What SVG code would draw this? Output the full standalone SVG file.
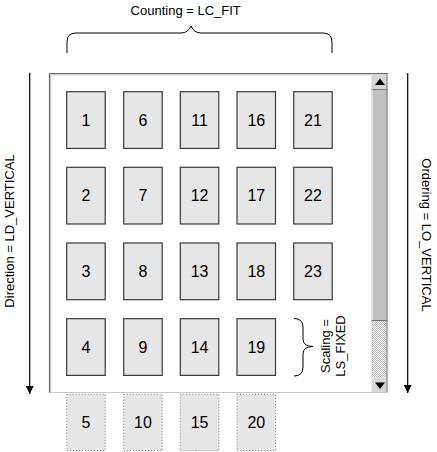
<svg xmlns="http://www.w3.org/2000/svg" width="437" height="452" viewBox="0 0 437 452">
<style>
  text { font-family: "Liberation Sans", Arial, sans-serif; fill: #000; }
  .lbl { font-size: 13px; }
  .num { font-size: 16px; text-anchor: middle; }
  .box { fill: #e6e6e6; stroke: #3a3a3a; stroke-width: 1.2; }
  .dot { fill: #e6e6e6; stroke: #777; stroke-width: 1; stroke-dasharray: 1 2; }
  .brace { fill: none; stroke: #000; stroke-width: 1; }
  .conn { fill: none; stroke: #000; stroke-width: 1.2; }
</style>
<defs>
  <marker id="arr" viewBox="0 0 10 10" refX="10" refY="5" markerWidth="8" markerHeight="8" markerUnits="userSpaceOnUse" orient="auto">
    <path d="M0,0 L10,5 L0,10 Z" fill="#000"/>
  </marker>
  <pattern id="dither" width="2" height="2" patternUnits="userSpaceOnUse">
    <rect width="2" height="2" fill="#ffffff"/>
    <rect width="1" height="1" fill="#b0b0b0"/>
    <rect x="1" y="1" width="1" height="1" fill="#b0b0b0"/>
  </pattern>
</defs>

<!-- window frame -->
<g id="window">
  <rect x="49" y="73" width="338.5" height="319.5" fill="#ffffff"/>
  <line x1="49" y1="392.5" x2="387.5" y2="392.5" stroke="#c8c8c8" stroke-width="1"/>
  <path d="M49.5,392.5 L49.5,73.5 L387.5,73.5" fill="none" stroke="#6a6a6a" stroke-width="1.2"/>
  <path d="M50.8,392 L50.8,74.8 L371,74.8" fill="none" stroke="#b8b8b8" stroke-width="1"/>
</g>

<!-- scrollbar -->
<g id="scrollbar">
  <rect x="371.5" y="74" width="16" height="16" fill="#d6d6d6"/>
  <line x1="371.5" y1="89.5" x2="387.5" y2="89.5" stroke="#808080"/>
  <path d="M380,78.5 L385,85 L375,85 Z" fill="#000"/>
  <rect x="371.5" y="90" width="16" height="231" fill="#c0c0c0"/>
  <line x1="372.5" y1="90" x2="372.5" y2="320.5" stroke="#e4e4e4"/>
  <line x1="371.5" y1="320.5" x2="387.5" y2="320.5" stroke="#707070"/>
  <rect x="371.5" y="321" width="16" height="57" fill="url(#dither)"/>
  <rect x="371.5" y="378" width="16" height="14" fill="#d6d6d6"/>
  <line x1="371.5" y1="378" x2="387.5" y2="378" stroke="#e8e8e8"/>
  <path d="M375,382.5 L385,382.5 L380,389 Z" fill="#000"/>
  <line x1="387" y1="73.5" x2="387" y2="392.5" stroke="#7a7a7a" stroke-width="1"/>
</g>

<!-- items -->
<g id="item1"><rect class="box" x="66.7" y="91.7" width="38.5" height="56.7"/><text class="num" x="86" y="125.7">1</text></g>
<g id="item2"><rect class="box" x="66.7" y="167.3" width="38.5" height="56.7"/><text class="num" x="86" y="201.3">2</text></g>
<g id="item3"><rect class="box" x="66.7" y="243" width="38.5" height="56.7"/><text class="num" x="86" y="277">3</text></g>
<g id="item4"><rect class="box" x="66.7" y="318.7" width="38.5" height="56.7"/><text class="num" x="86" y="352.7">4</text></g>
<g id="item5"><rect class="dot" x="66.7" y="394.3" width="38.5" height="56.2"/><text class="num" x="86" y="428.2">5</text></g>

<g id="item6"><rect class="box" x="123.7" y="91.7" width="38.5" height="56.7"/><text class="num" x="143" y="125.7">6</text></g>
<g id="item7"><rect class="box" x="123.7" y="167.3" width="38.5" height="56.7"/><text class="num" x="143" y="201.3">7</text></g>
<g id="item8"><rect class="box" x="123.7" y="243" width="38.5" height="56.7"/><text class="num" x="143" y="277">8</text></g>
<g id="item9"><rect class="box" x="123.7" y="318.7" width="38.5" height="56.7"/><text class="num" x="143" y="352.7">9</text></g>
<g id="item10"><rect class="dot" x="123.7" y="394.3" width="38.5" height="56.2"/><text class="num" x="143" y="428.2">10</text></g>

<g id="item11"><rect class="box" x="180.3" y="91.7" width="38.5" height="56.7"/><text class="num" x="199.6" y="125.7">11</text></g>
<g id="item12"><rect class="box" x="180.3" y="167.3" width="38.5" height="56.7"/><text class="num" x="199.6" y="201.3">12</text></g>
<g id="item13"><rect class="box" x="180.3" y="243" width="38.5" height="56.7"/><text class="num" x="199.6" y="277">13</text></g>
<g id="item14"><rect class="box" x="180.3" y="318.7" width="38.5" height="56.7"/><text class="num" x="199.6" y="352.7">14</text></g>
<g id="item15"><rect class="dot" x="180.3" y="394.3" width="38.5" height="56.2"/><text class="num" x="199.6" y="428.2">15</text></g>

<g id="item16"><rect class="box" x="237" y="91.7" width="38.5" height="56.7"/><text class="num" x="256.3" y="125.7">16</text></g>
<g id="item17"><rect class="box" x="237" y="167.3" width="38.5" height="56.7"/><text class="num" x="256.3" y="201.3">17</text></g>
<g id="item18"><rect class="box" x="237" y="243" width="38.5" height="56.7"/><text class="num" x="256.3" y="277">18</text></g>
<g id="item19"><rect class="box" x="237" y="318.7" width="38.5" height="56.7"/><text class="num" x="256.3" y="352.7">19</text></g>
<g id="item20"><rect class="dot" x="237" y="394.3" width="38.5" height="56.2"/><text class="num" x="256.3" y="428.2">20</text></g>

<g id="item21"><rect class="box" x="293.7" y="91.7" width="38.5" height="56.7"/><text class="num" x="313" y="125.7">21</text></g>
<g id="item22"><rect class="box" x="293.7" y="167.3" width="38.5" height="56.7"/><text class="num" x="313" y="201.3">22</text></g>
<g id="item23"><rect class="box" x="293.7" y="243" width="38.5" height="56.7"/><text class="num" x="313" y="277">23</text></g>

<!-- annotations -->
<g id="counting">
  <path class="brace" d="M67,53 L67,42 Q67,33 76,33 L181,33 Q188,33 191,26 Q194,33 201,33 L323,33 Q332,33 332,42 L332,53"/>
  <text class="lbl" x="185.7" y="15.3" text-anchor="middle">Counting = LC_FIT</text>
</g>
<g id="scaling">
  <path class="brace" d="M294,318.5 Q303,318.5 303,327 L303,339 Q303,346.5 313,346.5 Q303,346.5 303,354 L303,367 Q303,376 294,376"/>
  <text class="lbl" transform="translate(330,346) rotate(-90)" text-anchor="middle">Scaling =</text>
  <text class="lbl" transform="translate(344.5,346) rotate(-90)" text-anchor="middle">LS_FIXED</text>
</g>
<g id="direction">
  <text class="lbl" transform="translate(14.3,231) rotate(-90)" text-anchor="middle">Direction = LD_VERTICAL</text>
</g>
<g id="ordering">
  <text class="lbl" transform="translate(421.5,235) rotate(90)" text-anchor="middle">Ordering = LO_VERTICAL</text>
</g>

<!-- connectors -->
<g id="connectors">
  <line class="conn" x1="29.7" y1="72.7" x2="29.7" y2="394" marker-end="url(#arr)"/>
  <line class="conn" x1="407.7" y1="73" x2="407.7" y2="393" marker-end="url(#arr)"/>
</g>
</svg>
